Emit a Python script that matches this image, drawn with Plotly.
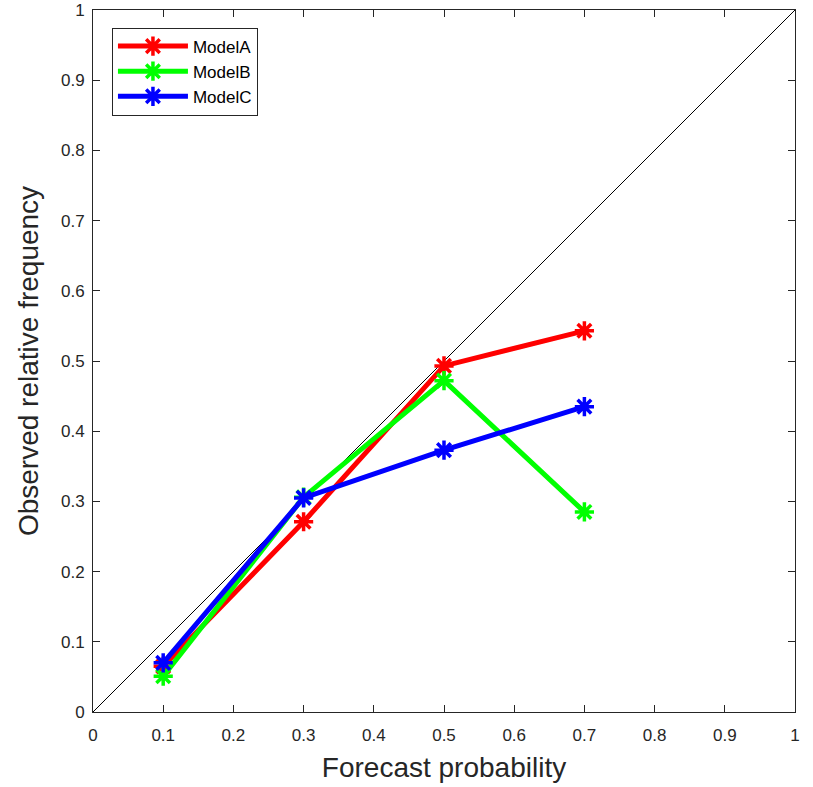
import plotly.graph_objects as go

forecast = [0.1, 0.3, 0.5, 0.7]
model_a = [0.065, 0.271, 0.493, 0.543]
model_b = [0.051, 0.306, 0.472, 0.285]
model_c = [0.070, 0.305, 0.373, 0.435]
names = ["ModelA", "ModelB", "ModelC"]
colors = ["#ff0000", "#00ff00", "#0000ff"]
ticks = [0, 0.1, 0.2, 0.3, 0.4, 0.5, 0.6, 0.7, 0.8, 0.9, 1]
tick_text = ["0", "0.1", "0.2", "0.3", "0.4", "0.5", "0.6", "0.7", "0.8", "0.9", "1"]

fig = go.Figure()
fig.add_trace(go.Scatter(x=[0, 1], y=[0, 1], mode="lines",
                         line=dict(color="black", width=1), showlegend=False,
                         hoverinfo="skip"))
for name, vals, col in zip(names, [model_a, model_b, model_c], colors):
    fig.add_trace(go.Scatter(
        x=forecast, y=vals, mode="lines+markers", name=name,
        line=dict(color=col, width=5),
        marker=dict(symbol="asterisk-open", size=16, color=col,
                    line=dict(color=col, width=3.5)),
    ))

axis_common = dict(
    range=[0, 1], tickvals=ticks, ticktext=tick_text,
    showgrid=False, zeroline=False, automargin=False,
    showline=True, linecolor="#262626", linewidth=1, mirror="allticks",
    ticks="inside", ticklen=7, tickcolor="#262626",
    tickfont=dict(family="Liberation Sans", size=17, color="#262626"),
)

fig.update_layout(
    width=813, height=787,
    margin=dict(l=93, r=18, t=10, b=75),
    paper_bgcolor="white", plot_bgcolor="white",
    xaxis=dict(**axis_common, ticklabelstandoff=8,
               title=dict(text="Forecast probability", standoff=12,
                          font=dict(family="Liberation Sans", size=28, color="#262626"))),
    yaxis=dict(**axis_common, ticklabelstandoff=4,
               title=dict(text="Observed relative frequency", standoff=14,
                          font=dict(family="Liberation Sans", size=28, color="#262626"))),
    legend=dict(x=0.027, y=0.975, xanchor="left", yanchor="top",
                bgcolor="white", bordercolor="#262626", borderwidth=1,
                font=dict(family="Liberation Sans", size=17, color="black"),
                itemwidth=70, tracegroupgap=0),
    showlegend=True,
)

fig.write_html("out.html")
